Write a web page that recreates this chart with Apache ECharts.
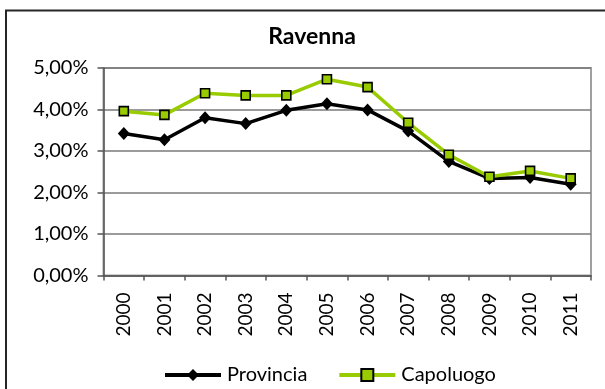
<!DOCTYPE html>
<html>
<head>
<meta charset="utf-8">
<script src="https://cdn.jsdelivr.net/npm/echarts@6/dist/echarts.min.js"></script>
<style>
  html, body { margin: 0; padding: 0; background: #fff; }
  #chart { width: 605px; height: 389px; }
</style>
</head>
<body>
<div id="chart"></div>
<script>
// Annual rates (%) for Ravenna, province vs. provincial capital
const years = ['2000', '2001', '2002', '2003', '2004', '2005', '2006', '2007', '2008', '2009', '2010', '2011'];
const provincia = [3.42, 3.27, 3.80, 3.66, 3.98, 4.14, 3.99, 3.48, 2.75, 2.34, 2.36, 2.20];
const capoluogo = [3.96, 3.87, 4.39, 4.34, 4.34, 4.73, 4.54, 3.68, 2.91, 2.38, 2.52, 2.34];
const yTicks = [0, 1, 2, 3, 4, 5];

const FONT = 'Lato, "Open Sans", sans-serif';
const fmtPct = v => v.toFixed(2).replace('.', ',') + '%';

const chart = echarts.init(document.getElementById('chart'), null, { renderer: 'canvas' });

chart.setOption({
  backgroundColor: '#ffffff',
  animation: false,
  title: {
    text: 'Ravenna',
    left: 307,
    top: 20,
    textAlign: 'center',
    textStyle: { fontFamily: FONT, fontSize: 23, fontWeight: 'bold', color: '#000' }
  },
  graphic: [{
    type: 'rect',
    shape: { x: 6, y: 10.5, width: 640, height: 420 },
    style: { fill: 'none', stroke: '#262626', lineWidth: 2 },
    silent: true
  }],
  legend: {
    left: 163,
    top: 365,
    padding: 0,
    itemWidth: 56,
    itemHeight: 15,
    itemGap: 30,
    lineStyle: { width: 4 },
    textStyle: { fontFamily: FONT, fontSize: 20, color: '#000', padding: [0, 0, 0, 1] },
    data: ['Provincia', 'Capoluogo']
  },
  grid: {
    left: 103.5,
    top: 68,
    width: 487.5,
    height: 207.5,
    show: true,
    borderColor: '#a0a0a0',
    borderWidth: 2,
    backgroundColor: 'transparent'
  },
  xAxis: {
    type: 'category',
    data: years,
    boundaryGap: true,
    axisLine: { lineStyle: { color: '#555', width: 1.5 } },
    axisTick: { show: true, alignWithLabel: false, length: 5, lineStyle: { color: '#555', width: 1.5 } },
    axisLabel: { rotate: 90, margin: 17, fontFamily: FONT, fontSize: 19, color: '#000' }
  },
  yAxis: {
    type: 'value',
    min: yTicks[0],
    max: yTicks[yTicks.length - 1],
    interval: 1,
    axisLine: { show: true, lineStyle: { color: '#555', width: 1.5 } },
    axisTick: { show: true, length: 6, lineStyle: { color: '#555', width: 1.5 } },
    splitLine: { show: true, lineStyle: { color: '#7a7a7a', width: 1.5 } },
    axisLabel: { formatter: fmtPct, margin: 15, fontFamily: FONT, fontSize: 20, color: '#000' }
  },
  series: [
    {
      name: 'Provincia',
      type: 'line',
      data: provincia,
      symbol: 'diamond',
      symbolSize: [12, 13],
      lineStyle: { color: '#000', width: 3.5 },
      itemStyle: { color: '#000', borderColor: '#000', borderWidth: 0 },
      z: 2
    },
    {
      name: 'Capoluogo',
      type: 'line',
      data: capoluogo,
      symbol: 'rect',
      symbolSize: 9,
      lineStyle: { color: '#99cc00', width: 3.5 },
      itemStyle: { color: '#99cc00', borderColor: '#000', borderWidth: 1.6 },
      z: 3
    }
  ]
});
</script>
</body>
</html>
